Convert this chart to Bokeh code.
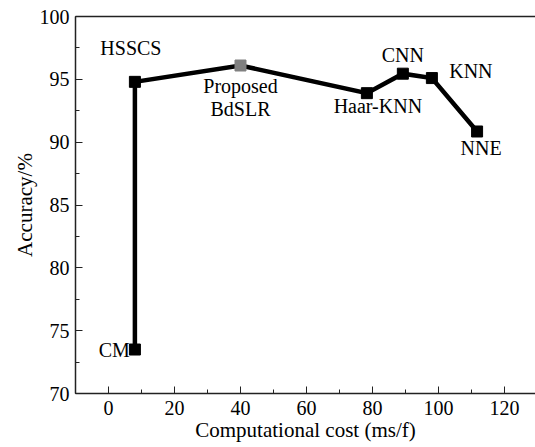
from bokeh.plotting import figure
from bokeh.models import LinearAxis, SingleIntervalTicker, FixedTicker, Range1d, ColumnDataSource
from bokeh.embed import file_html
from bokeh.resources import INLINE
from bokeh.core.properties import value

# data
methods = ["CM", "HSSCS", "Proposed\nBdSLR", "Haar-KNN", "CNN", "KNN", "NNE"]
cost = [8.0, 8.0, 40.0, 78.3, 89.2, 98.0, 111.7]
accuracy = [73.5, 94.8, 96.1, 93.9, 95.45, 95.1, 90.85]
marker_colors = ["black", "black", "#808080", "black", "black", "black", "black"]
label_dx = [-5, -4, 0, 11, 0, 39, 4]
label_dy = [0, -34, 9, 13, -19, -7, 17]
label_align = ["right", "center", "center", "center", "center", "center", "center"]
label_base = ["middle", "middle", "top", "middle", "middle", "middle", "middle"]

FONT = "'Liberation Serif'"

p = figure(width=535, height=447, output_backend="svg", toolbar_location=None,
           x_range=Range1d(-10, 129.4), y_range=Range1d(70, 100),
           min_border_left=75, min_border_right=0, min_border_top=16, min_border_bottom=54)
p.outline_line_color = None
p.xgrid.visible = False
p.ygrid.visible = False
p.background_fill_color = "white"
p.border_fill_color = "white"

for ax in (p.xaxis[0], p.yaxis[0]):
    ax.major_tick_in = 7
    ax.major_tick_out = 0
    ax.minor_tick_in = 4
    ax.minor_tick_out = 0
    ax.axis_line_width = 1.5
    ax.axis_line_color = "#222222"
    ax.major_tick_line_color = "#222222"
    ax.minor_tick_line_color = "#222222"
    ax.major_label_text_font = FONT
    ax.major_label_text_font_size = "20px"
    ax.major_label_text_color = "black"
    ax.axis_label_text_font = FONT
    ax.axis_label_text_font_size = "21px"
    ax.axis_label_text_font_style = "normal"
    ax.axis_label_text_color = "black"

p.xaxis[0].ticker = SingleIntervalTicker(interval=20, num_minor_ticks=2)
p.yaxis[0].ticker = SingleIntervalTicker(interval=5, num_minor_ticks=2)
p.xaxis[0].axis_label = "Computational cost (ms/f)"
p.yaxis[0].axis_label = "Accuracy/%"
p.xaxis[0].major_label_standoff = 7
p.xaxis[0].axis_label_standoff = 0
p.yaxis[0].major_label_standoff = 6
p.yaxis[0].axis_label_standoff = 0

top = LinearAxis(ticker=FixedTicker(ticks=[]), major_tick_line_color=None,
                 minor_tick_line_color=None, axis_line_width=1.5,
                 axis_line_color="#222222")
p.add_layout(top, "above")

src = ColumnDataSource(dict(x=cost, y=accuracy, c=marker_colors, t=methods,
                            dx=label_dx, dy=label_dy, al=label_align, bl=label_base))
p.line("x", "y", source=src, line_width=4.5, line_color="black", line_join="miter")
p.scatter("x", "y", source=src, marker="square", size=11, fill_color="c", line_color="c")
p.text("x", "y", text="t", source=src, x_offset="dx", y_offset="dy",
       text_align="al", text_baseline="bl", text_font=value(FONT),
       text_font_size="20px", text_color="black", text_line_height=1.05)

open("out.html", "w").write(file_html(p, INLINE))
